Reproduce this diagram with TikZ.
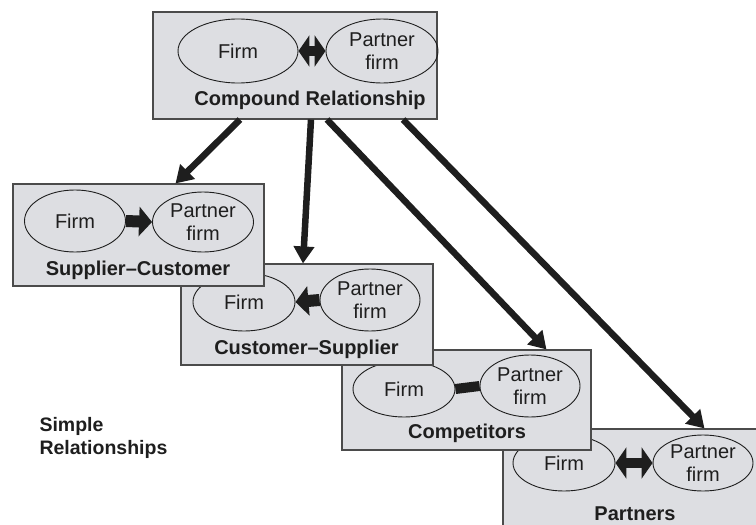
\documentclass[tikz,border=0pt]{standalone}
\usepackage{fontspec}
\setmainfont{Liberation Sans}
\usetikzlibrary{arrows.meta,shapes.geometric}
\definecolor{boxgray}{RGB}{221,222,226}
\definecolor{inkgray}{RGB}{30,30,30}

\begin{document}
\begin{tikzpicture}[x=1pt,y=-1pt,
	relbox/.style={rectangle,draw=inkgray!80,fill=boxgray,line width=1.1pt,inner sep=0pt},
	party/.style={ellipse,draw=inkgray,line width=0.9pt,inner sep=0pt,align=center,text=inkgray,font=\fontsize{20}{23}\selectfont},
	reltitle/.style={text=inkgray,font=\bfseries\fontsize{20}{23}\selectfont},
	link/.style={draw=inkgray,line width=6.5pt,-{Triangle[length=17pt,width=20pt]}},
	flow/.style={draw=inkgray,line width=12pt,-{Triangle[length=13pt,width=29pt]}},
	mutual/.style={draw=inkgray,line width=10pt,{Triangle[length=11pt,width=31pt]}-{Triangle[length=11pt,width=31pt]}}]
		
		\useasboundingbox (0,0) rectangle (756,525);
		
		% boxes, back to front
		\node[relbox, minimum width=267pt, minimum height=106pt] (PA) at (636.5,482) {};
		\node[party, minimum width=102pt, minimum height=56pt] (PAfirm) at (564,463) {Firm};
		\node[party, minimum width=100pt, minimum height=56pt] (PApartner) at (703,463) {Partner\\firm};
		\node[reltitle] (PAtitle) at (635,514) {Partners};
		\draw[mutual] (PAfirm.east) -- (PApartner.west);
		
		\node[relbox, minimum width=249pt, minimum height=100pt] (CO) at (466.5,400) {};
		\node[party, minimum width=102pt, minimum height=56pt] (COfirm) at (404,389) {Firm};
		\node[party, minimum width=100pt, minimum height=62pt] (COpartner) at (530,386) {Partner\\firm};
		\node[reltitle] (COtitle) at (467,433) {Competitors};
		\draw[inkgray,line width=10pt] (COfirm.east) -- (COpartner.west);
		
		\node[relbox, minimum width=252pt, minimum height=101pt] (CS) at (307,314.5) {};
		\node[party, minimum width=102pt, minimum height=58pt] (CSfirm) at (244,302) {Firm};
		\node[party, minimum width=100pt, minimum height=62pt] (CSpartner) at (370,300) {Partner\\firm};
		\node[reltitle] (CStitle) at (306.5,349) {Customer--Supplier};
		\draw[flow] (CSpartner.west) -- (CSfirm.east);
		
		\node[relbox, minimum width=251pt, minimum height=102pt] (SC) at (138.5,235) {};
		\node[party, minimum width=101pt, minimum height=62pt] (SCfirm) at (75,221) {Firm};
		\node[party, minimum width=101pt, minimum height=60pt] (SCpartner) at (203,222) {Partner\\firm};
		\node[reltitle] (SCtitle) at (138,270) {Supplier--Customer};
		\draw[flow] (SCfirm.east) -- (SCpartner.west);
		
		\node[relbox, minimum width=284pt, minimum height=107pt] (CR) at (295,65.5) {};
		\node[party, minimum width=120pt, minimum height=64pt] (CRfirm) at (238,51) {Firm};
		\node[party, minimum width=112pt, minimum height=64pt] (CRpartner) at (382,51) {Partner\\firm};
		\node[reltitle] (CRtitle) at (310,100) {Compound Relationship};
		\draw[mutual] (CRfirm.east) -- (CRpartner.west);
		
		\node[text=inkgray, font=\bfseries\fontsize{19.5}{22.5}\selectfont, align=left, anchor=west] (simple) at (36,438) {Simple\\Relationships};
		
		% compound splits into the four simple ones
		\draw[link] ([xshift=-55pt]CR.south) -- ([xshift=37pt]SC.north);
		\draw[link] ([xshift=16pt]CR.south) -- ([xshift=-4pt]CS.north);
		\draw[link] ([xshift=32pt]CR.south) -- ([xshift=80pt]CO.north);
		\draw[link] ([xshift=108pt]CR.south) -- ([xshift=68pt]PA.north);
		
\end{tikzpicture}
\end{document}
